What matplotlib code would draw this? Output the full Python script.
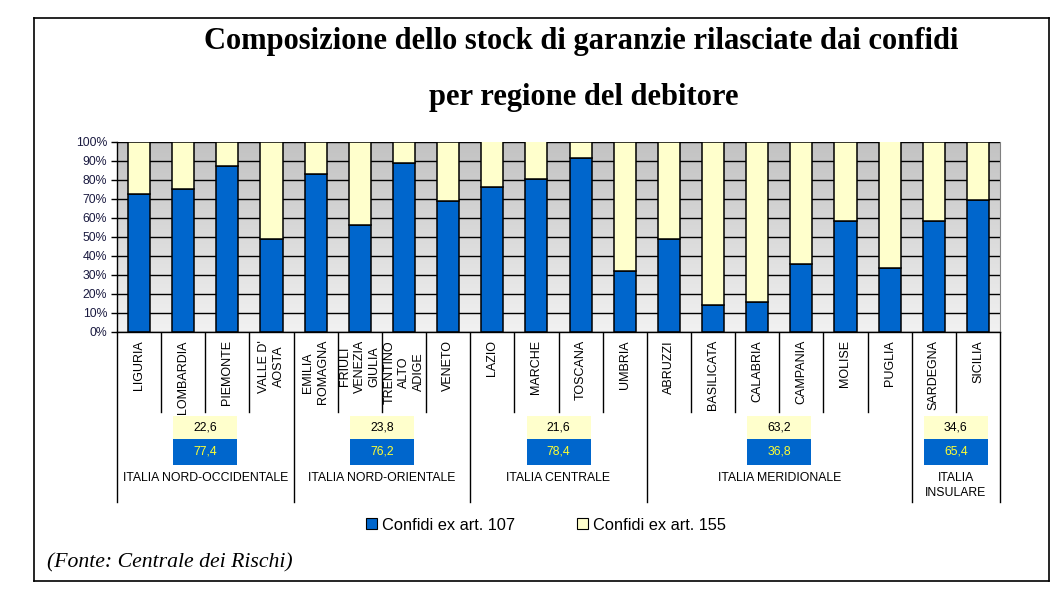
import numpy as np
import matplotlib
matplotlib.use("Agg")
import matplotlib.pyplot as plt
from matplotlib.transforms import blended_transform_factory
from matplotlib.patches import Rectangle
from matplotlib.lines import Line2D

regions = ["LIGURIA", "LOMBARDIA", "PIEMONTE", "VALLE D'\nAOSTA",
           "EMILIA\nROMAGNA", "FRIULI\nVENEZIA\nGIULIA", "TRENTINO\nALTO\nADIGE", "VENETO",
           "LAZIO", "MARCHE", "TOSCANA", "UMBRIA",
           "ABRUZZI", "BASILICATA", "CALABRIA", "CAMPANIA", "MOLISE", "PUGLIA",
           "SARDEGNA", "SICILIA"]
art107 = [72.3, 74.9, 86.9, 48.7,
          82.7, 56.4, 88.5, 68.6,
          75.9, 80.1, 91.4, 31.9,
          48.7, 14.1, 15.7, 35.6, 58.1, 33.5,
          58.1, 69.1]
art155 = [100 - v for v in art107]

groups = ["ITALIA NORD-OCCIDENTALE", "ITALIA NORD-ORIENTALE", "ITALIA CENTRALE",
          "ITALIA MERIDIONALE", "ITALIA\nINSULARE"]
group_sizes = [4, 4, 4, 6, 2]
group_107 = ["77,4", "76,2", "78,4", "36,8", "65,4"]
group_155 = ["22,6", "23,8", "21,6", "63,2", "34,6"]

series_names = ["Confidi ex art. 107", "Confidi ex art. 155"]
yticks = [0, 10, 20, 30, 40, 50, 60, 70, 80, 90, 100]

BLUE = "#0066cc"
YELLOW = "#ffffcc"
SANS = "Liberation Sans"
SERIF = "Liberation Serif"

W, H = 1063, 595
fig = plt.figure(figsize=(W / 100, H / 100), dpi=100)
fig.patch.set_facecolor("white")

# overlay in pixel coordinates
ov = fig.add_axes([0, 0, 1, 1])
ov.set_xlim(0, W)
ov.set_ylim(H, 0)
ov.axis("off")
ov.set_zorder(0)

L, R, T, B = 117, 1000, 141.5, 332
ax = fig.add_axes([L / W, (H - B) / H, (R - L) / W, (B - T) / H])
ax.set_zorder(1)

n = len(regions)
x = np.arange(n)
ax.set_xlim(-0.5, n - 0.5)
ax.set_ylim(0, 100)

# gradient background
grad = np.linspace(0, 1, 256).reshape(-1, 1)
cmap = matplotlib.colors.LinearSegmentedColormap.from_list("g", ["#f2f2f2", "#c2c2c2"])
ax.imshow(grad, extent=(-0.5, n - 0.5, 0, 100), origin="lower", aspect="auto",
          cmap=cmap, zorder=0)

for yv in yticks:
    ax.axhline(yv, color="black", lw=1.0, zorder=1)

ax.bar(x, art107, width=0.5, color=BLUE, edgecolor="black", lw=1.1, zorder=2,
       label=series_names[0])
ax.bar(x, art155, width=0.5, bottom=art107, color=YELLOW, edgecolor="black", lw=1.1,
       zorder=2, label=series_names[1])

ax.set_yticks(yticks)
ax.set_yticklabels([f"{v}%" for v in yticks], fontsize=8.8, family=SANS, color="#1a1a40")
ax.tick_params(axis="y", direction="out", length=4, width=1, pad=3)
ax.set_xticks([])
ax.spines["top"].set_visible(False)
ax.spines["right"].set_color("#808080")
ax.spines["left"].set_linewidth(1.0)
ax.spines["bottom"].set_linewidth(1.0)

# category labels & separators
tr = blended_transform_factory(ax.transData, ov.transData)
for i, name in enumerate(regions):
    ov.text(i, 340, name, transform=tr, rotation=90, ha="center", va="top",
            multialignment="center", fontsize=9, family=SANS, linespacing=1.3)

bounds = np.cumsum([0] + group_sizes)
group_edges = set(bounds.tolist())
for k in range(n + 1):
    bottom = 502 if k in group_edges else 412
    ov.add_line(Line2D([k - 0.5, k - 0.5], [B, bottom], transform=tr,
                       color="black", lw=1.0))

for g, name in enumerate(groups):
    c = (bounds[g] + bounds[g + 1] - 1) / 2
    ov.text(c, 472, name, transform=tr, ha="center", va="top",
            fontsize=8.8, family=SANS, linespacing=1.3)
    # summary boxes
    bw = 64 / ((R - L) / n)
    ov.add_patch(Rectangle((c - bw / 2, 416), bw, 23, transform=tr,
                           facecolor=YELLOW, edgecolor="none"))
    ov.add_patch(Rectangle((c - bw / 2, 439), bw, 26, transform=tr,
                           facecolor=BLUE, edgecolor="none"))
    ov.text(c, 427.5, group_155[g], transform=tr, ha="center", va="center",
            fontsize=8.8, family=SANS, color="black")
    ov.text(c, 452, group_107[g], transform=tr, ha="center", va="center",
            fontsize=8.8, family=SANS, color="#ffff33")

# legend
handles = [Rectangle((0, 0), 1, 1, facecolor=BLUE, edgecolor="black", lw=0.8),
           Rectangle((0, 0), 1, 1, facecolor=YELLOW, edgecolor="black", lw=0.8)]
fig.legend(handles, series_names, loc="center", bbox_to_anchor=(546 / W, 1 - 525 / H),
           ncol=2, frameon=False, prop={"family": SANS, "size": 11.8},
           handlelength=0.65, handleheight=0.65, handletextpad=0.3, columnspacing=3.8)

# titles
ov.text(581, 42, "Composizione dello stock di garanzie rilasciate dai confidi",
        ha="center", va="center", fontsize=22, fontweight="bold", family=SERIF)
ov.text(584, 98, "per regione del debitore",
        ha="center", va="center", fontsize=22, fontweight="bold", family=SERIF)

# source
ov.text(47, 563, "(Fonte: Centrale dei Rischi)", ha="left", va="center",
        fontsize=15.7, style="italic", family=SERIF)

# frame
ov.add_line(Line2D([34, 1049], [18, 18], color="black", lw=1.2))
ov.add_line(Line2D([34, 34], [18, 581], color="black", lw=1.2))
ov.add_line(Line2D([1049, 1049], [18, 581], color="black", lw=1.2))
ov.add_line(Line2D([34, 1049], [581, 581], color="black", lw=1.2))

fig.savefig("out.png", dpi=100)
